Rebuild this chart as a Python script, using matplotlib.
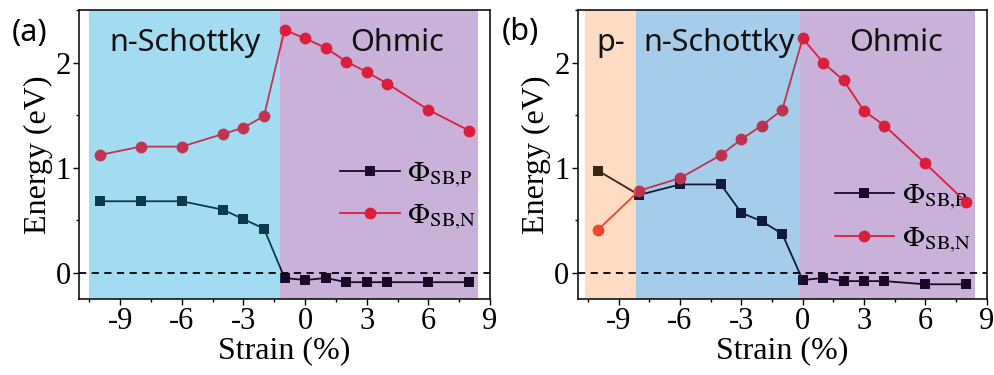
import matplotlib
matplotlib.use('Agg')
import matplotlib.pyplot as plt
from matplotlib.ticker import MultipleLocator

plt.rcParams['font.family'] = 'Liberation Serif'
plt.rcParams['mathtext.fontset'] = 'stix'
plt.rcParams['axes.unicode_minus'] = False

# strain values (%)
strain = [-10, -8, -6, -4, -3, -2, -1, 0, 1, 2, 3, 4, 6, 8]

# panel (a)
phi_p_a = [0.68, 0.68, 0.68, 0.60, 0.51, 0.42, -0.05, -0.07, -0.05, -0.09, -0.09, -0.09, -0.09, -0.09]
phi_n_a = [1.12, 1.20, 1.20, 1.32, 1.38, 1.49, 2.31, 2.23, 2.14, 2.01, 1.91, 1.80, 1.55, 1.35]

# panel (b)
phi_p_b = [0.97, 0.74, 0.84, 0.84, 0.57, 0.49, 0.37, -0.07, -0.05, -0.08, -0.08, -0.08, -0.11, -0.11]
phi_n_b = [0.41, 0.78, 0.90, 1.12, 1.27, 1.40, 1.55, 2.23, 2.00, 1.83, 1.54, 1.40, 1.04, 0.67]

# region: start, end, fill, label, label x, tinted (P, N) colours or None
regions_a = [(-10.5, -1.22, '#a3dcf1', 'n-Schottky', -5.85, ('#0c3a4a', '#bf3552')),
             (-1.22, 8.42, '#c9b1d9', 'Ohmic', 4.47, None)]
regions_b = [(-10.63, -8.13, '#fddcc3', 'p-', -9.4, ('#3a2412', '#f0452e')),
             (-8.13, -0.13, '#a5cde9', 'n-Schottky', -4.1, ('#0e1c3a', '#bc3350')),
             (-0.13, 8.43, '#c9b1d9', 'Ohmic', 4.57, None)]

c_p = '#1a0a28'
c_n = '#dc1e3c'

fig = plt.figure(figsize=(9.94, 3.75), dpi=100)
ax_a = fig.add_axes([0.0795, 0.2027, 0.4135, 0.7706])
ax_b = fig.add_axes([0.5812, 0.2027, 0.4115, 0.7706])


def draw_series(ax, p, n, cp, cn, z):
    lp, = ax.plot(strain, p, '-s', color=cp, ms=7.5, mew=0, lw=1.3, zorder=z,
                  label=r'$\Phi_{\mathrm{SB{,}P}}$')
    ln, = ax.plot(strain, n, '-o', color=cn, ms=8.5, mew=0, lw=1.3, zorder=z,
                  label=r'$\Phi_{\mathrm{SB{,}N}}$')
    return lp, ln


def draw_panel(ax, p, n, regions, leg_anchor):
    lp, ln = draw_series(ax, p, n, c_p, c_n, 2)
    for x0, x1, col, name, xt, tint in regions:
        if tint is None:
            ax.axvspan(x0, x1, color=col, lw=0, zorder=1)
        else:
            # shaded band sits over the curves, so redraw them tinted inside it
            span = ax.axvspan(x0, x1, color=col, lw=0, zorder=3)
            for line in draw_series(ax, p, n, tint[0], tint[1], 3.5):
                line.set_clip_path(span)
        ax.text(xt, 2.19, name, family='Noto Sans', fontsize=22, ha='center',
                va='center', color='#111111', zorder=6)
    ax.axhline(0, color='black', ls=(0, (4, 3)), lw=1.3, zorder=4)
    ax.set_xlim(-11, 9)
    ax.set_ylim(-0.25, 2.5)
    ax.xaxis.set_major_locator(MultipleLocator(3))
    ax.xaxis.set_minor_locator(MultipleLocator(1.5))
    ax.yaxis.set_major_locator(MultipleLocator(1))
    ax.yaxis.set_minor_locator(MultipleLocator(0.5))
    ax.tick_params(which='major', direction='out', length=4, width=1, labelsize=22, pad=2)
    ax.tick_params(which='minor', direction='out', length=2.5, width=1)
    for s in ax.spines.values():
        s.set_linewidth(1.1)
        s.set_zorder(8)
    ax.set_xlabel('Strain (%)', fontsize=23, labelpad=0)
    ax.set_ylabel('Energy (eV)', fontsize=23, labelpad=2)
    leg = ax.legend(handles=[lp, ln], loc='center left', bbox_to_anchor=leg_anchor,
                    frameon=False, fontsize=21, handlelength=2.05, handletextpad=0.25,
                    labelspacing=0.45, borderaxespad=0, borderpad=0)
    # keep the legend under the data curves (it sits in the untinted band)
    leg.set_zorder(1.5)


draw_panel(ax_a, phi_p_a, phi_n_a, regions_a, (0.635, 0.356))
draw_panel(ax_b, phi_p_b, phi_n_b, regions_b, (0.628, 0.278))

fig.text(0.012, 0.912, '(a)', family='Noto Sans', fontsize=22, va='center')
fig.text(0.505, 0.915, '(b)', family='Noto Sans', fontsize=22, va='center')

fig.savefig('out.png', dpi=100)
